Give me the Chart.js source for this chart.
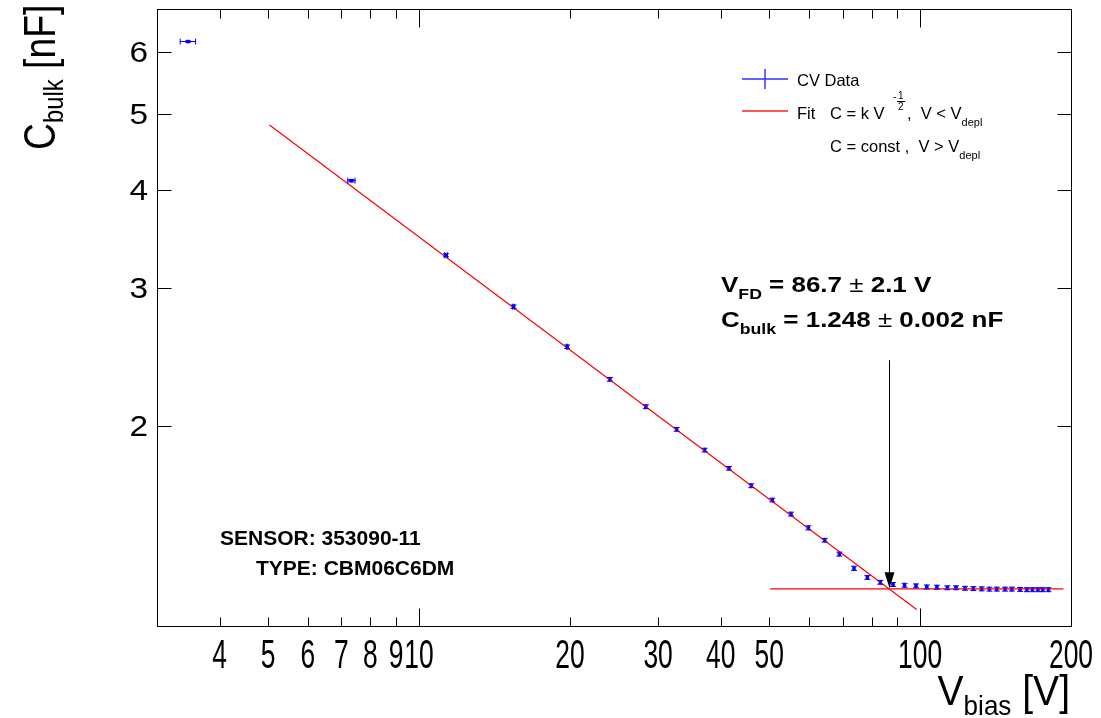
<!DOCTYPE html>
<html>
<head>
<meta charset="utf-8">
<script src="https://cdn.jsdelivr.net/npm/chart.js@4.4.0/dist/chart.umd.min.js"></script>
<style>
html,body{margin:0;padding:0;background:#fff;}
</style>
</head>
<body>
<canvas id="cv" width="1101" height="718"></canvas>
<script>
const vBias=[3.46,7.33,11.32,15.44,19.75,24.04,28.36,32.66,37.15,41.54,46.02,50.69,55.24,59.82,64.49,68.99,73.8,78.47,83.27,88.29,93.09,98.1,103.1,108,113.3,117.9,122.9,127.7,132.7,137.5,142.2,147.7,152.4,158.3,163.3,167.5,171.8,175.6,180.3];
const cBulk=[6.18,4.107,3.299,2.836,2.521,2.291,2.114,1.978,1.861,1.764,1.676,1.607,1.542,1.481,1.428,1.371,1.315,1.280,1.262,1.254,1.251,1.249,1.245,1.244,1.242,1.242,1.240,1.239,1.238,1.237,1.237,1.237,1.237,1.236,1.235,1.235,1.235,1.235,1.235];
const vErr=[0.13,0.14,0.1,0.1,0.1,0,0,0,0,0,0,0,0,0,0,0,0,0,0,0,0,0,0,0,0,0,0,0,0,0,0,0,0,0,0,0,0,0,0];
const cErr=[0.02,0.02,0.02,0.018,0.017,0.016,0.015,0.014,0.013,0.012,0.012,0.011,0.011,0.011,0.01,0.01,0.01,0.009,0.009,0.009,0.009,0.009,0.009,0.009,0.009,0.009,0.009,0.009,0.009,0.009,0.009,0.009,0.009,0.009,0.009,0.009,0.009,0.009,0.009];

// fit lines
const fitLowV=[5.03,98.4];
const fitLowC=[4.836,1.165];
const fitHighV=[50.2,193.2];
const fitHighC=[1.238,1.238];

// arrow at the depletion voltage
const vDepl=86.7;
const arrowC=[2.424,1.24];

const xTicks=[4,5,6,7,8,9,10,20,30,40,50,60,70,80,90,100,200];
const xMajor=[10,100];
const xLabels=[4,5,6,7,8,9,10,20,30,40,50,100,200];
const yTicks=[2,3,4,5,6];

const FONT='"Liberation Sans", Arial, sans-serif';

function rich(ctx,parts,x,y){
  let cx=x;
  parts.forEach(p=>{
    ctx.font=p.f;
    cx+=(p.dx||0);
    ctx.fillText(p.t,cx,y+(p.dy||0));
    cx+=ctx.measureText(p.t).width;
  });
  return cx;
}
function richWidth(ctx,parts){
  let w=0;
  parts.forEach(p=>{ctx.font=p.f;w+=(p.dx||0)+ctx.measureText(p.t).width;});
  return w;
}

const rootStyle={
  id:'rootStyle',
  afterDatasetsDraw(chart){
    const ctx=chart.ctx, xs=chart.scales.x, ys=chart.scales.y;
    // error bars
    ctx.save();
    ctx.strokeStyle='#0000ff';
    ctx.lineWidth=1;
    vBias.forEach((v,i)=>{
      const px=xs.getPixelForValue(v), py=ys.getPixelForValue(cBulk[i]);
      if(vErr[i]>0){
        const a=xs.getPixelForValue(v-vErr[i]), b=xs.getPixelForValue(v+vErr[i]);
        ctx.beginPath();
        ctx.moveTo(a,py);ctx.lineTo(b,py);
        ctx.moveTo(a+0.5,py-3);ctx.lineTo(a+0.5,py+3);
        ctx.moveTo(b-0.5,py-3);ctx.lineTo(b-0.5,py+3);
        ctx.stroke();
      }
      const t=ys.getPixelForValue(cBulk[i]+cErr[i]), u=ys.getPixelForValue(cBulk[i]-cErr[i]);
      ctx.beginPath();
      ctx.moveTo(px,t);ctx.lineTo(px,u);
      ctx.moveTo(px-3,t+0.5);ctx.lineTo(px+3,t+0.5);
      ctx.moveTo(px-3,u-0.5);ctx.lineTo(px+3,u-0.5);
      ctx.stroke();
    });
    ctx.restore();

    // arrow
    const ax=Math.round(xs.getPixelForValue(vDepl))+0.5;
    const a0=ys.getPixelForValue(arrowC[0]), a1=ys.getPixelForValue(arrowC[1]);
    ctx.save();
    ctx.strokeStyle='#000';ctx.fillStyle='#000';ctx.lineWidth=1;
    ctx.beginPath();ctx.moveTo(ax,a0);ctx.lineTo(ax,a1-14);ctx.stroke();
    ctx.beginPath();ctx.moveTo(ax-5,a1-16);ctx.lineTo(ax+5,a1-16);ctx.lineTo(ax,a1);ctx.closePath();ctx.fill();
    ctx.restore();
  },
  afterDraw(chart){
    const ctx=chart.ctx, xs=chart.scales.x, ys=chart.scales.y, ca=chart.chartArea;
    const L=Math.round(ca.left)+0.5, R=Math.round(ca.right)+0.5, T=Math.round(ca.top)+0.5, B=Math.round(ca.bottom)+0.5;
    ctx.save();
    ctx.strokeStyle='#000';ctx.lineWidth=1;
    ctx.strokeRect(L,T,R-L,B-T);
    ctx.beginPath();
    xTicks.forEach(v=>{
      const px=Math.round(xs.getPixelForValue(v))+0.5;
      const len=xMajor.includes(v)?18:9;
      ctx.moveTo(px,B);ctx.lineTo(px,B-len);
      ctx.moveTo(px,T);ctx.lineTo(px,T+len);
    });
    yTicks.forEach(v=>{
      const py=Math.round(ys.getPixelForValue(v))+0.5;
      ctx.moveTo(L,py);ctx.lineTo(L+14,py);
      ctx.moveTo(R,py);ctx.lineTo(R-14,py);
    });
    ctx.stroke();

    ctx.fillStyle='#000';
    // x tick labels (narrow)
    ctx.font='40px '+FONT;
    ctx.textAlign='center';
    xLabels.forEach(v=>{
      ctx.save();
      ctx.translate(xs.getPixelForValue(v),668);
      ctx.scale(0.66,1);
      ctx.fillText(String(v),0,0);
      ctx.restore();
    });
    // y tick labels
    ctx.font='29px '+FONT;
    ctx.textAlign='right';
    yTicks.forEach(v=>{
      ctx.save();
      ctx.translate(148,ys.getPixelForValue(v)+10.5);
      ctx.scale(1.15,1);
      ctx.fillText(String(v),0,0);
      ctx.restore();
    });
    ctx.textAlign='left';

    // axis titles
    const xt=[{t:'V',f:'42px '+FONT},{t:'bias',f:'28px '+FONT,dy:10},{t:' [V]',f:'42px '+FONT}];
    ctx.save();
    ctx.translate(1070,705);
    ctx.scale(0.93,1);
    rich(ctx,xt,-richWidth(ctx,xt),0);
    ctx.restore();

    ctx.save();
    ctx.translate(55,150);
    ctx.rotate(-Math.PI/2);
    ctx.scale(0.85,1);
    rich(ctx,[{t:'C',f:'44px '+FONT},{t:'bulk',f:'28px '+FONT,dy:8},{t:' [nF]',f:'44px '+FONT}],0,0);
    ctx.restore();

    // legend
    ctx.lineWidth=1.4;
    ctx.strokeStyle='#3030ff';
    ctx.beginPath();ctx.moveTo(742,79);ctx.lineTo(788,79);ctx.moveTo(765,69);ctx.lineTo(765,89);ctx.stroke();
    ctx.strokeStyle='#ff2020';
    ctx.beginPath();ctx.moveTo(742,111);ctx.lineTo(788,111);ctx.stroke();
    ctx.lineWidth=1;
    const lf='16.5px '+FONT, sf='11px '+FONT;
    rich(ctx,[{t:'CV Data',f:lf}],797,86);
    rich(ctx,[{t:'Fit',f:lf}],797,119);
    rich(ctx,[{t:'C = k V',f:lf}],830,119);
    ctx.font='10px '+FONT;
    ctx.fillText('-',893,100);
    ctx.fillText('1',898,99);
    ctx.fillText('2',898,110);
    ctx.beginPath();ctx.strokeStyle='#000';ctx.moveTo(897,101.5);ctx.lineTo(905,101.5);ctx.stroke();
    let cx=rich(ctx,[{t:',  V < V',f:lf}],907,119);
    rich(ctx,[{t:'depl',f:sf}],cx,126);
    cx=rich(ctx,[{t:'C = const ,  V > V',f:lf}],830,152);
    rich(ctx,[{t:'depl',f:sf}],cx,159);

    // results
    const bf='bold 22px '+FONT, bs='bold 15px '+FONT, pm='22px '+FONT;
    ctx.save();
    ctx.translate(721,292);
    ctx.scale(1.18,1);
    rich(ctx,[{t:'V',f:bf},{t:'FD',f:bs,dy:7},{t:' = 86.7 ',f:bf},{t:'\u00b1',f:pm},{t:' 2.1 V',f:bf}],0,0);
    ctx.restore();
    ctx.save();
    ctx.translate(721,327);
    ctx.scale(1.18,1);
    rich(ctx,[{t:'C',f:bf},{t:'bulk',f:bs,dy:7},{t:' = 1.248 ',f:bf},{t:'\u00b1',f:pm},{t:' 0.002 nF',f:bf}],0,0);
    ctx.restore();

    const sb='bold 21px '+FONT;
    rich(ctx,[{t:'SENSOR: 353090-11',f:sb}],220,545);
    rich(ctx,[{t:'TYPE: CBM06C6DM',f:sb}],256,575);
    ctx.restore();
  }
};

new Chart(document.getElementById('cv'),{
  type:'scatter',
  data:{
    datasets:[
      {label:'fit low',type:'line',data:fitLowV.map((v,i)=>({x:v,y:fitLowC[i]})),borderColor:'#ff0000',borderWidth:1.2,pointRadius:0,fill:false,showLine:true},
      {label:'fit high',type:'line',data:fitHighV.map((v,i)=>({x:v,y:fitHighC[i]})),borderColor:'#ff0000',borderWidth:1.2,pointRadius:0,fill:false,showLine:true},
      {label:'CV Data',data:vBias.map((v,i)=>({x:v,y:cBulk[i]})),pointStyle:'rect',pointRadius:2.5,backgroundColor:'#0000ff',borderColor:'#0000ff',borderWidth:0}
    ]
  },
  options:{
    responsive:false,
    animation:false,
    devicePixelRatio:1,
    layout:{padding:{left:0,top:9,right:30,bottom:0}},
    plugins:{legend:{display:false},tooltip:{enabled:false}},
    scales:{
      x:{
        type:'logarithmic',min:3,max:200,
        ticks:{display:false},grid:{display:false},border:{display:false},
        afterFit(s){s.height=92;}
      },
      y:{
        type:'logarithmic',min:1.11,max:6.8,
        ticks:{display:false},grid:{display:false},border:{display:false},
        afterFit(s){s.width=157;}
      }
    }
  },
  plugins:[rootStyle]
});
</script>
</body>
</html>
